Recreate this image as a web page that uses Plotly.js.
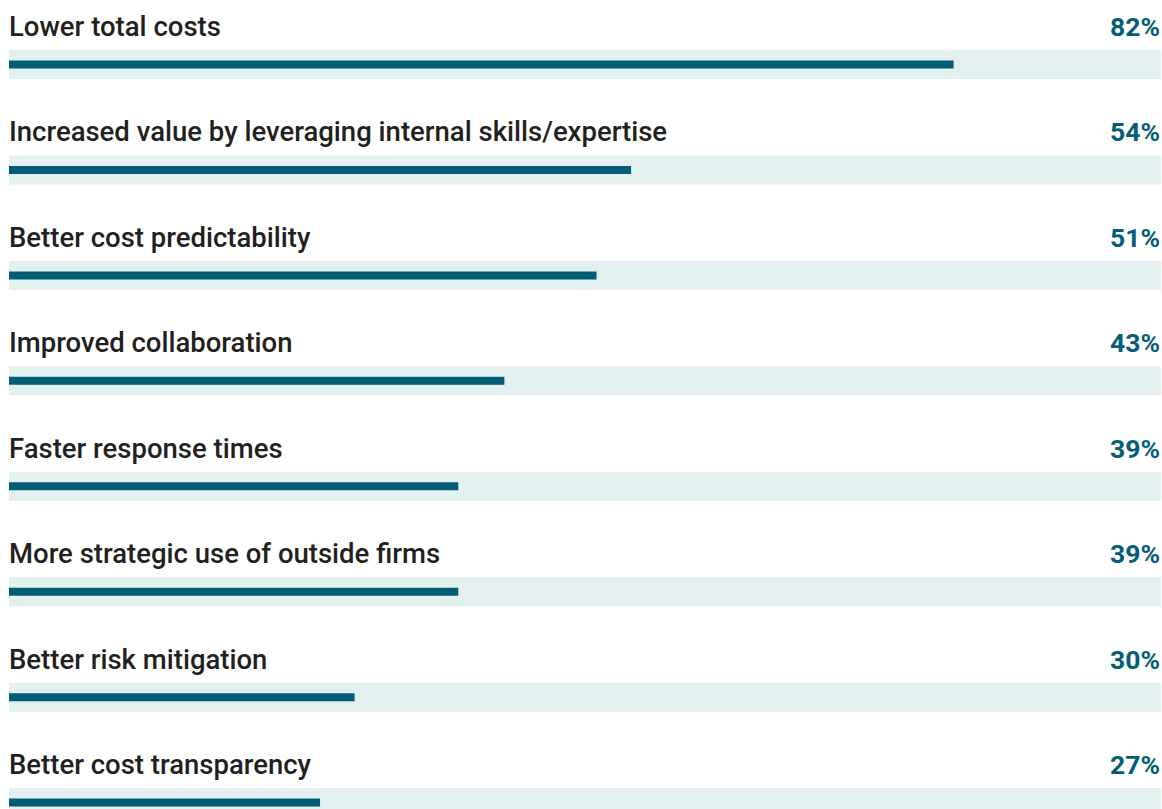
<!DOCTYPE html>
<html>
<head>
<meta charset="utf-8">
<script src="https://cdn.plot.ly/plotly-3.0.1.min.js"></script>
<style>html,body{margin:0;padding:0;background:#fff;}#chart{width:1162px;height:809px;}</style>
</head>
<body>
<div id="chart"></div>
<script>
const categories = [
  "Lower total costs",
  "Increased value by leveraging internal skills/expertise",
  "Better cost predictability",
  "Improved collaboration",
  "Faster response times",
  "More strategic use of outside firms",
  "Better risk mitigation",
  "Better cost transparency"
];
const values = [82, 54, 51, 43, 39, 39, 30, 27];
const fullScale = [100, 100, 100, 100, 100, 100, 100, 100];
const valueLabels = values.map(v => v + "%");

const positions = categories.map((c, i) => i);

const bandTrace = {
  type: "bar", orientation: "h",
  x: fullScale, y: positions, width: 0.275,
  marker: {color: "#e2f0f0"}, hoverinfo: "skip", showlegend: false
};
const barTrace = {
  type: "bar", orientation: "h",
  x: values, y: positions, width: 0.076,
  marker: {color: "#035d77"}, showlegend: false,
  hovertemplate: "%{x}%<extra></extra>"
};

const annotations = [];
categories.forEach((c, i) => {
  annotations.push({
    xref: "paper", yref: "y", x: 0, y: i, xanchor: "left", yanchor: "middle",
    yshift: 38, xshift: -2, text: c, showarrow: false,
    font: {family: "Roboto, sans-serif", size: 27.5, weight: 500, color: "#231f20"}
  });
  annotations.push({
    xref: "paper", yref: "y", x: 1, y: i, xanchor: "right", yanchor: "middle",
    yshift: 38, xshift: 1, text: "<b>" + valueLabels[i] + "</b>", showarrow: false,
    font: {family: "Roboto, sans-serif", size: 26.5, color: "#035d77"}
  });
});

const layout = {
  width: 1162, height: 809,
  margin: {l: 9, r: 1, t: 0, b: 0, pad: 0},
  paper_bgcolor: "#ffffff", plot_bgcolor: "#ffffff",
  barmode: "overlay",
  xaxis: {range: [0, 100], visible: false, fixedrange: true},
  yaxis: {range: [7.061, -0.612], visible: false, fixedrange: true},
  annotations: annotations
};

Plotly.newPlot("chart", [bandTrace, barTrace], layout, {displayModeBar: false, staticPlot: true});
</script>
</body>
</html>
